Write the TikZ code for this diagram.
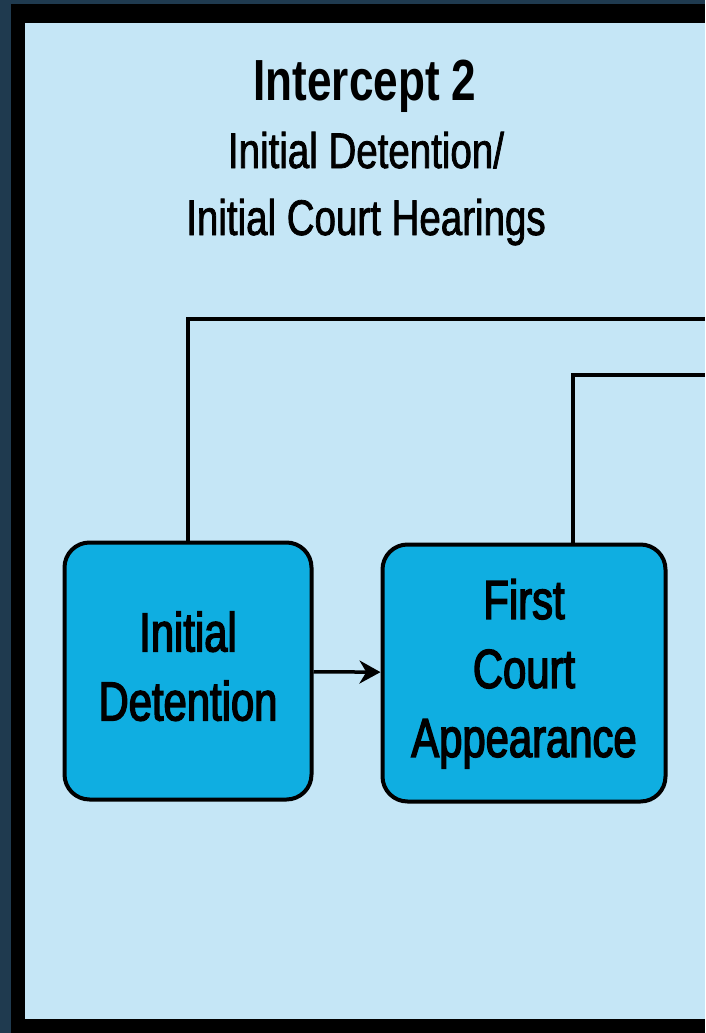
\documentclass[tikz,border=0pt]{standalone}
\usepackage{fontspec}
\usetikzlibrary{arrows.meta}
\newfontfamily\narrowfont[FakeStretch=0.77,FakeBold=1.5]{Liberation Sans}
\newfontfamily\narrowstagefont[FakeStretch=0.76,FakeBold=2.5]{Liberation Sans}
\newfontfamily\narrowboldfont[FakeStretch=0.76]{Liberation Sans Bold}
\definecolor{framenavy}{HTML}{1F3A4F}
\definecolor{panelblue}{HTML}{C5E6F6}
\definecolor{stageblue}{HTML}{0FAEE1}
\begin{document}
\begin{tikzpicture}[
	x=1pt, y=-1pt,
	stage/.style={ draw, line width=4pt, fill=stageblue, rounded corners=25pt, minimum height=257pt, align=center, inner sep=0pt, text depth=10pt, font=\narrowstagefont\fontsize{55}{69}\selectfont },
	link/.style={ line width=3.5pt },
	flow/.style={ line width=3.5pt, -{Stealth[length=21pt,width=23pt]} }
]
\useasboundingbox (0,0) rectangle (705,1033);

% frame and panel
\fill[framenavy] (0,0) rectangle (705,1033);
\fill[black] (11,4) rectangle (705,1033);
\fill[panelblue] (25,23) rectangle (705,1019);

% heading
\node at (365,100) (title) [anchor=base, font=\narrowboldfont\fontsize{58}{60}\selectfont] {Intercept 2};
\node at (366,235) (subtitle) [anchor=base, align=center, font=\narrowfont\fontsize{50}{67}\selectfont] {Initial Detention/\\Initial Court Hearings};

% stages
\node at (188,671) (detention) [stage, minimum width=247pt] {Initial\\Detention};
\node at (524,673) (appearance) [stage, minimum width=283pt] {First\\Court\\Appearance};

\coordinate (exitone) at (705,319);
\coordinate (exittwo) at (705,375);
\coordinate (risetwo) at (573,375);

\draw[flow] (detention) to (appearance);
\draw[link] (detention.north) |- (exitone);
\draw[link] (appearance.north -| risetwo) |- (exittwo);

\end{tikzpicture}
\end{document}
